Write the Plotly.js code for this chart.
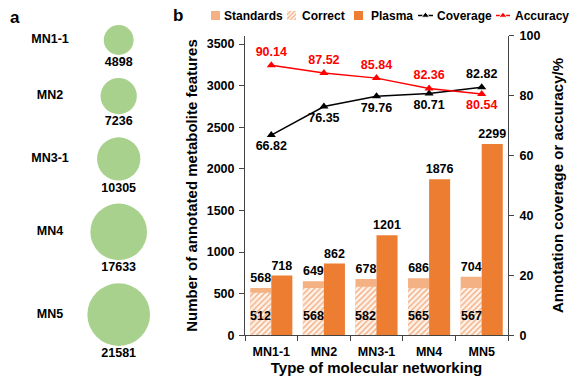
<!DOCTYPE html>
<html><head><meta charset="utf-8">
<script src="https://cdn.plot.ly/plotly-3.0.1.min.js"></script>
<style>html,body{margin:0;padding:0;background:#fff}#chart{width:581px;height:384px}</style>
</head><body><div id="chart"></div>
<script>
// ---- data ----
const networks = ['MN1-1', 'MN2', 'MN3-1', 'MN4', 'MN5'];
const networkNodes = [4898, 7236, 10305, 17633, 21581];
const standards = [568, 649, 678, 686, 704];
const correct = [512, 568, 582, 565, 567];
const plasma = [718, 862, 1201, 1876, 2299];
const coverage = [66.82, 76.35, 79.76, 80.71, 82.82];
const accuracy = [90.14, 87.52, 85.84, 82.36, 80.54];

// ---- styling / geometry ----
const W = 581, H = 384;
const FONT = 'Liberation Sans, Arial, Helvetica, sans-serif';
const bold = (size, color) => ({family: FONT, size: size, color: color || '#000', weight: 'bold'});
const plotL = 245, plotR = 508, plotT = 35.7, plotB = 335.3;
const catPx = (plotR - plotL) / networks.length;
const C_STD = '#f4b183', C_PLASMA = '#ed7d31', C_HATCH = '#f2a675', C_HATCH_BG = '#fdf2ea', C_GREEN = '#a9d18e';

// panel a: pixel-space subplot
const panelAW = 0.3 * W;
const circleX = 118.7, nameX = 50, firstCY = 40, circleGap = 23, diamPerSqrt = 0.4268;
const diam = networkNodes.map(v => diamPerSqrt * Math.sqrt(v));
const cy = [];
diam.forEach((d, i) => { cy.push(i === 0 ? firstCY : cy[i - 1] + diam[i - 1] / 2 + d / 2 + circleGap); });

const traces = [];
traces.push({type: 'scatter', mode: 'markers', x: networks.map(() => circleX), y: cy, xaxis: 'x3', yaxis: 'y3',
  marker: {size: diam, color: C_GREEN, opacity: 1, line: {width: 0}}, showlegend: false, hoverinfo: 'skip'});
traces.push({type: 'scatter', mode: 'text', x: networks.map(() => circleX), y: cy.map((c, i) => c + diam[i] / 2 + 8),
  xaxis: 'x3', yaxis: 'y3', text: networkNodes.map(String), textposition: 'middle center', textfont: bold(12.5),
  showlegend: false, hoverinfo: 'skip', cliponaxis: false});
traces.push({type: 'scatter', mode: 'text', x: networks.map(() => nameX), y: cy, xaxis: 'x3', yaxis: 'y3',
  text: networks, textposition: 'middle center', textfont: bold(12.5), showlegend: false, hoverinfo: 'skip', cliponaxis: false});

// panel b
traces.push({type: 'bar', name: 'Standards', x: networks, y: standards, offset: -0.4, width: 0.4,
  marker: {color: C_STD, line: {width: 0}}, text: standards.map(String), textposition: 'outside',
  textfont: bold(12.5), constraintext: 'none', cliponaxis: false, showlegend: false});
traces.push({type: 'bar', name: 'Correct', x: networks, y: correct, offset: -0.4, width: 0.4,
  marker: {color: C_HATCH, line: {width: 0}, pattern: {shape: '/', fgcolor: C_HATCH, bgcolor: C_HATCH_BG, size: 4, solidity: 0.3}},
  showlegend: false});
traces.push({type: 'bar', name: 'Plasma', x: networks, y: plasma, offset: 0, width: 0.4,
  marker: {color: C_PLASMA, line: {width: 0}}, text: plasma.map(String), textposition: 'outside',
  textfont: bold(12.5), constraintext: 'none', cliponaxis: false, showlegend: false});
traces.push({type: 'scatter', name: 'Coverage', mode: 'lines+markers+text', x: networks, y: coverage, yaxis: 'y2',
  line: {color: '#000', width: 1.5}, marker: {symbol: 'triangle-up', size: 8, color: '#000'},
  text: coverage.map(v => v.toFixed(2)),
  textposition: ['bottom center', 'bottom center', 'bottom center', 'bottom center', 'top center'],
  textfont: bold(12.5, '#000'), cliponaxis: false, showlegend: false});
traces.push({type: 'scatter', name: 'Accuracy', mode: 'lines+markers+text', x: networks, y: accuracy, yaxis: 'y2',
  line: {color: '#ff0000', width: 1.5}, marker: {symbol: 'triangle-up', size: 8, color: '#ff0000'},
  text: accuracy.map(v => v.toFixed(2)),
  textposition: ['top center', 'top center', 'top center', 'top center', 'bottom center'],
  textfont: bold(12.5, '#ff0000'), cliponaxis: false, showlegend: false});

// custom legend in a pixel-space strip at top
const legY = 15.5, sw = 9;
const legendSwatches = [
  {name: 'Standards', x0: 211, tx: 222, color: C_STD},
  {name: 'Correct', x0: 287, tx: 300, color: C_HATCH, hatch: true},
  {name: 'Plasma', x0: 354, tx: 369, color: C_PLASMA}
];
const legendLines = [
  {name: 'Coverage', x0: 418, x1: 433, tx: 435, color: '#000'},
  {name: 'Accuracy', x0: 496, x1: 510, tx: 513, color: '#ff0000'}
];
legendSwatches.forEach(s => {
  const m = {color: s.color, line: {width: 0}};
  if (s.hatch) m.pattern = {shape: '/', fgcolor: C_HATCH, bgcolor: C_HATCH_BG, size: 3, solidity: 0.35};
  traces.push({type: 'bar', x: [s.x0 + sw / 2], y: [sw], base: [legY - sw / 2], width: [sw], xaxis: 'x4', yaxis: 'y4',
    marker: m, showlegend: false, hoverinfo: 'skip'});
});
legendLines.forEach(l => {
  traces.push({type: 'scatter', mode: 'lines+markers', x: [l.x0, (l.x0 + l.x1) / 2, l.x1], y: [legY, legY, legY],
    xaxis: 'x4', yaxis: 'y4', line: {color: l.color, width: 1.5},
    marker: {symbol: 'triangle-up', size: [0, 7, 0], color: l.color, opacity: 1}, showlegend: false, hoverinfo: 'skip'});
});

const annotations = [];
correct.forEach((v, i) => annotations.push({x: networks[i], y: 0, xref: 'x', yref: 'y', text: String(v), showarrow: false,
  xshift: -0.2 * catPx, yshift: 19, yanchor: 'middle', font: bold(12.5)}));
legendSwatches.concat(legendLines).forEach(it => annotations.push({x: it.tx, y: legY, xref: 'x4', yref: 'y4', text: it.name,
  showarrow: false, xanchor: 'left', yanchor: 'middle', font: bold(12)}));
annotations.push({x: 15 / W, y: 1 - 17 / H, xref: 'paper', yref: 'paper', text: 'a', showarrow: false, font: bold(17), xanchor: 'center', yanchor: 'middle'});
annotations.push({x: 178 / W, y: 1 - 15 / H, xref: 'paper', yref: 'paper', text: 'b', showarrow: false, font: bold(17), xanchor: 'center', yanchor: 'middle'});

const axisLine = {showline: true, linecolor: '#444', linewidth: 1, showgrid: false, zeroline: false, ticks: 'outside', ticklen: 5, tickcolor: '#444', tickfont: bold(12.5)};
const layout = {
  width: W, height: H, margin: {l: 0, r: 0, t: 0, b: 0}, paper_bgcolor: '#fff', plot_bgcolor: 'rgba(0,0,0,0)',
  barmode: 'overlay', showlegend: false, font: {family: FONT},
  xaxis: Object.assign({}, axisLine, {domain: [plotL / W, plotR / W], type: 'category', range: [-0.5, 4.5], tickson: 'boundaries',
    ticklabelstandoff: 5, anchor: 'y', title: {text: 'Type of molecular networking', font: bold(15), standoff: 1}, automargin: false}),
  yaxis: Object.assign({}, axisLine, {domain: [1 - plotB / H, 1 - plotT / H], range: [0, 3600], dtick: 500, anchor: 'x',
    ticklabelstandoff: 2, title: {text: 'Number of annotated metabolite features', font: bold(15), standoff: 5}, automargin: false}),
  yaxis2: Object.assign({}, axisLine, {overlaying: 'y', side: 'right', range: [0, 100], dtick: 20, anchor: 'x',
    ticklabelstandoff: 3, title: {text: 'Annotation coverage or accuracy/%', font: bold(15), standoff: 13}, automargin: false}),
  xaxis3: {domain: [0, 0.3], range: [0, panelAW], visible: false, fixedrange: true, anchor: 'y3'},
  yaxis3: {domain: [0, 1], range: [H, 0], visible: false, fixedrange: true, anchor: 'x3'},
  xaxis4: {domain: [0.3, 1], range: [panelAW, W], visible: false, fixedrange: true, anchor: 'y4'},
  yaxis4: {domain: [1 - 27 / H, 1], range: [27, 0], visible: false, fixedrange: true, anchor: 'x4'},
  annotations: annotations
};
Plotly.newPlot('chart', traces, layout, {displayModeBar: false, staticPlot: true});
</script>
</body></html>
